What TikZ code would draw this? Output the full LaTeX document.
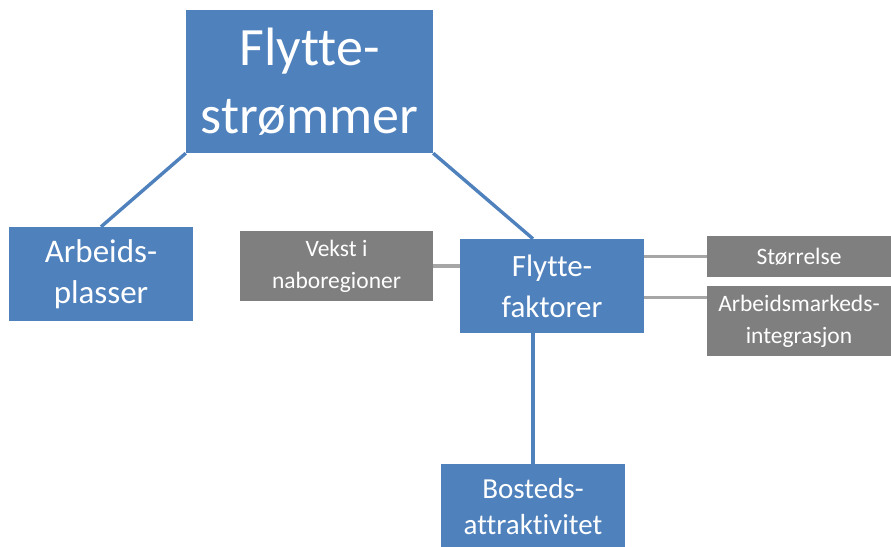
\documentclass[tikz,border=0pt]{standalone}
\usepackage{fontspec}
\setmainfont[Ligatures={NoCommon}]{Carlito}
\usetikzlibrary{positioning}
\usepackage{xcolor}
\definecolor{boxblue}{HTML}{4F81BD}
\definecolor{boxgray}{HTML}{7F7F7F}
\definecolor{linegray}{HTML}{A6A6A6}

\begin{document}
\begin{tikzpicture}[
x=1pt, y=-1pt,
bluebox/.style={fill=boxblue, 
rectangle, 
text=white, 
inner sep=0pt, 
minimum width=184pt, 
minimum height=94pt, 
align=center}, 
graybox/.style={fill=boxgray, 
rectangle, 
text=white, 
inner sep=0pt, 
minimum width=184pt, 
minimum height=70pt, 
align=center, 
font=\fontsize{23.5}{32}\selectfont}, 
blueline/.style={draw=boxblue, line width=3.4pt}, 
grayline/.style={draw=linegray, line width=3.2pt} 
]
\useasboundingbox (0,0) rectangle (891,546);

\node[bluebox, minimum width=247pt, minimum height=143pt, font=\fontsize{54}{68}\selectfont] (top) at (309.5,81.5) {Flytte-\\strømmer};
\node[bluebox, font=\fontsize{33}{41}\selectfont] (arb) at (101,274) {Arbeids-\\plasser};
\node[bluebox, font=\fontsize{31}{41}\selectfont] (fak) at (552,286) {Flytte-\\faktorer};
\node[bluebox, minimum height=86pt, font=\fontsize{29}{36}\selectfont] (bos) at (533,507) {Bosteds-\\attraktivitet};
\node[graybox, minimum width=193pt] (vek) at (336.5,266) {Vekst i\\naboregioner};
\node[graybox, minimum height=41pt] (str) at (799,256.5) {Størrelse};
\node[graybox] (amk) at (799,321) {Arbeidsmarkeds-\\integrasjon};

\draw[blueline] (top.south west) -- (arb.north); 
\draw[blueline] (top.south east) -- (fak.north -| bos.north); 
\draw[blueline] (fak.south -| bos.north) -- (bos.north);

\draw[grayline] (vek.east) -- (vek.east -| fak.west); 
\draw[grayline] (fak.east |- str.west) -- (str.west); 
\coordinate (amkin) at ([yshift=-12pt]amk.north west);
\draw[grayline] (fak.east |- amkin) -- (amkin);

\end{tikzpicture}
\end{document}
